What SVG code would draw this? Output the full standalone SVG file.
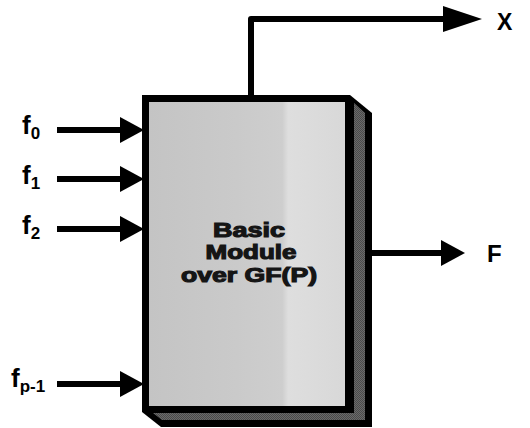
<svg xmlns="http://www.w3.org/2000/svg" width="530" height="428" viewBox="0 0 530 428">
  <style>
    .wire { fill: none; stroke: #000; stroke-width: 6; stroke-linejoin: round; }
    .lbl { font-family: "Liberation Sans", Arial, sans-serif; font-weight: bold; fill: #000; }
    .title { font-family: "Liberation Sans", Arial, sans-serif; font-weight: bold; font-size: 19.5px; fill: #151515; stroke: #151515; stroke-width: 1.1; text-anchor: middle; }
  </style>
  <defs>
    <marker id="head" markerUnits="userSpaceOnUse" markerWidth="24" markerHeight="26" refX="0" refY="13" orient="auto">
      <path d="M0,0 L24,13 L0,26 Z" fill="#000"/>
    </marker>
    <marker id="headLong" markerUnits="userSpaceOnUse" markerWidth="40" markerHeight="26" refX="0" refY="13" orient="auto">
      <path d="M0,0 L39,13 L0,26 Z" fill="#000"/>
    </marker>
    <linearGradient id="faceFill" x1="0" y1="0" x2="1" y2="0">
      <stop offset="0" stop-color="#c4c4c4"/>
      <stop offset="0.45" stop-color="#cacaca"/>
      <stop offset="0.68" stop-color="#cecece"/>
      <stop offset="0.71" stop-color="#dedede"/>
      <stop offset="1" stop-color="#d8d8d8"/>
    </linearGradient>
    <pattern id="grain" width="2" height="2" patternUnits="userSpaceOnUse">
      <rect x="0" y="0" width="1" height="1" fill="#000"/>
      <rect x="1" y="1" width="1" height="1" fill="#000"/>
    </pattern>
  </defs>

  <!-- the module block: front face with a shaded right side and bottom -->
  <g id="module">
    <polygon points="142,95 350,95 372,113 372,427 161,427 142,412" fill="#000"/>
    <rect x="149" y="102" width="196" height="304" fill="url(#faceFill)"/>
    <polygon points="354,103 365,113 365,420 162,420 153,413 354,413" fill="#6a6a6a"/>
    <polygon points="354,103 365,113 365,420 162,420 153,413 354,413" fill="url(#grain)" opacity="0.3"/>
    <text class="title" x="249" y="237" textLength="72" lengthAdjust="spacingAndGlyphs">Basic</text>
    <text class="title" x="251" y="259" textLength="91" lengthAdjust="spacingAndGlyphs">Module</text>
    <text class="title" x="249" y="282" textLength="136" lengthAdjust="spacingAndGlyphs">over GF(P)</text>
  </g>

  <!-- signals in and out -->
  <g id="connectors">
    <path class="wire" d="M57,130 H120" marker-end="url(#head)"/>
    <path class="wire" d="M57,179 H120" marker-end="url(#head)"/>
    <path class="wire" d="M57,229 H120" marker-end="url(#head)"/>
    <path class="wire" d="M57,384 H120" marker-end="url(#head)"/>
    <path class="wire" d="M251,95 V19 H443" marker-end="url(#headLong)"/>
    <path class="wire" d="M372,253 H441" marker-end="url(#head)"/>
  </g>

  <g id="in-f0"><text class="lbl" x="22" y="134" font-size="26">f<tspan font-size="17" dy="5">0</tspan></text></g>
  <g id="in-f1"><text class="lbl" x="22" y="184" font-size="26">f<tspan font-size="17" dy="5">1</tspan></text></g>
  <g id="in-f2"><text class="lbl" x="22" y="234" font-size="26">f<tspan font-size="17" dy="5">2</tspan></text></g>
  <g id="in-fp1"><text class="lbl" x="11" y="387" font-size="26">f<tspan font-size="17" dy="5">p-1</tspan></text></g>
  <g id="out-x"><text class="lbl" x="497" y="30" font-size="23">X</text></g>
  <g id="out-f"><text class="lbl" x="487" y="262" font-size="24">F</text></g>
</svg>
